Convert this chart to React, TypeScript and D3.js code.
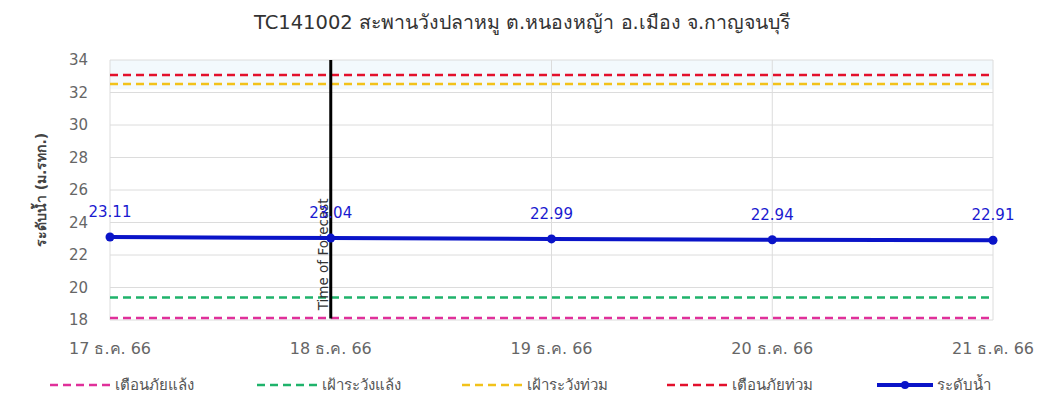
import React from "react";
import * as d3 from "d3";

const dates = ["17 ธ.ค. 66", "18 ธ.ค. 66", "19 ธ.ค. 66", "20 ธ.ค. 66", "21 ธ.ค. 66"];
const waterLevel = [23.11, 23.04, 22.99, 22.94, 22.91];
const yTicks = [18, 20, 22, 24, 26, 28, 30, 32, 34];
const thresholdNames = ["เตือนภัยแล้ง", "เฝ้าระวังแล้ง", "เฝ้าระวังท่วม", "เตือนภัยท่วม"];
const thresholdValues = [18.12, 19.38, 32.52, 33.08];
const thresholdColors = ["#e0309a", "#1fb36b", "#f2c21b", "#e3102c"];
const seriesName = "ระดับน้ำ";
const forecastIndex = 1;
const title = "TC141002 สะพานวังปลาหมู ต.หนองหญ้า อ.เมือง จ.กาญจนบุรี";
const yLabel = "ระดับน้ำ (ม.รทก.)";

const W = 1038, H = 398;
const M = { left: 110, right: 1038 - 993, top: 60, bottom: 398 - 320 };
const FONT = "Tahoma, 'DejaVu Sans', 'Noto Sans', sans-serif";
const BLUE = "#0a14c8";

export default function App() {
  const x = d3.scalePoint<string>().domain(dates).range([M.left, W - M.right]);
  const y = d3.scaleLinear().domain([18, 34]).range([H - M.bottom, M.top]);
  const line = d3.line<number>().x((_, i) => x(dates[i])!).y((d) => y(d));
  const x0 = M.left, x1 = W - M.right;
  const legendItems = [...thresholdNames.map((n, i) => ({ n, c: thresholdColors[i], dash: true })), { n: seriesName, c: BLUE, dash: false }];
  const legendX = [50, 257, 462, 667, 877];

  return (
    <svg width={W} height={H} style={{ position: "absolute", left: 0, top: 0, background: "#fff" }} fontFamily={FONT}>
      <text x={522} y={29} textAnchor="middle" fontSize={19.5} fill="#333">{title}</text>
      {/* faint top band */}
      <rect x={x0} y={y(34)} width={x1 - x0} height={y(32.2) - y(34)} fill="#f3f9fd" />
      {/* grid */}
      {yTicks.map((t) => (
        <line key={"h" + t} x1={x0} x2={x1} y1={y(t)} y2={y(t)} stroke="#dcdcdc" strokeWidth={1} />
      ))}
      {dates.map((d) => (
        <line key={"v" + d} x1={x(d)} x2={x(d)} y1={y(34)} y2={y(18)} stroke="#dcdcdc" strokeWidth={1} />
      ))}
      {yTicks.map((t) => (
        <text key={"yt" + t} x={88} y={y(t) + 5} textAnchor="end" fontSize={15} fill="#666">{t}</text>
      ))}
      {dates.map((d) => (
        <text key={"xt" + d} x={x(d)} y={354} textAnchor="middle" fontSize={16} fill="#666">{d}</text>
      ))}
      <text transform={`translate(46,${(y(18) + y(34)) / 2}) rotate(-90)`} textAnchor="middle" fontSize={14} fill="#444" fontWeight="bold">{yLabel}</text>
      {/* thresholds */}
      {thresholdValues.map((v, i) => (
        <line key={"th" + i} x1={x0} x2={x1} y1={y(v)} y2={y(v)} stroke={thresholdColors[i]} strokeWidth={2.5} strokeDasharray="8,5" />
      ))}
      {/* forecast line */}
      <line x1={x(dates[forecastIndex])} x2={x(dates[forecastIndex])} y1={y(34)} y2={y(18.1)} stroke="#000" strokeWidth={3} />
      <text transform={`translate(${x(dates[forecastIndex])! - 3},${y(18.6)}) rotate(-90)`} fontSize={13.5} fill="#333">Time of Forecast</text>
      {/* series */}
      <path d={line(waterLevel) || ""} fill="none" stroke={BLUE} strokeWidth={4} />
      {waterLevel.map((v, i) => (
        <circle key={"p" + i} cx={x(dates[i])} cy={y(v)} r={4.5} fill={BLUE} />
      ))}
      {waterLevel.map((v, i) => (
        <text key={"l" + i} x={x(dates[i])} y={y(v) - 20} textAnchor="middle" fontSize={15} fill="#1a1ad0">{v.toFixed(2)}</text>
      ))}
      {/* legend */}
      {legendItems.map((it, i) => (
        <g key={"lg" + i} transform={`translate(${legendX[i]},385)`}>
          {it.dash ? (
            <line x1={0} x2={60} y1={0} y2={0} stroke={it.c} strokeWidth={2.5} strokeDasharray="8,5" />
          ) : (
            <>
              <line x1={0} x2={56} y1={0} y2={0} stroke={it.c} strokeWidth={4} />
              <circle cx={28} cy={0} r={4} fill={it.c} />
            </>
          )}
          <text x={it.dash ? 65 : 60} y={5} fontSize={15} fill="#555">{it.n}</text>
        </g>
      ))}
    </svg>
  );
}
